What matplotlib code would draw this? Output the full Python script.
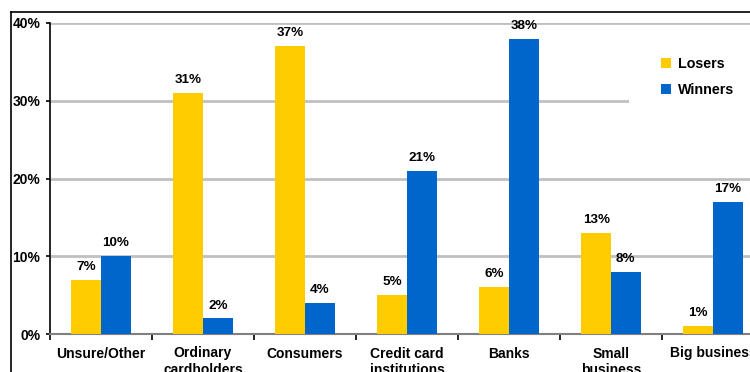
import matplotlib.pyplot as plt
import numpy as np
from matplotlib.lines import Line2D
from matplotlib.patches import Rectangle

plt.rcParams['font.family'] = ['Liberation Sans', 'DejaVu Sans']
plt.rcParams['font.weight'] = 'bold'

# data
categories = ['Unsure/Other', 'Ordinary\ncardholders', 'Consumers',
              'Credit card\ninstitutions', 'Banks', 'Small\nbusiness', 'Big business']
losers = [7, 31, 37, 5, 6, 13, 1]
winners = [10, 2, 4, 21, 38, 8, 17]
y_ticks = [0, 10, 20, 30, 40]

W, H = 750, 372
fig = plt.figure(figsize=(W / 100, H / 100), dpi=100)
# axes runs past the right edge, as in the cropped original
ax = fig.add_axes([50 / W, 1 - 334 / H, 714 / W, 311 / H])

x = np.arange(len(categories))
bw = 0.29
b1 = ax.bar(x - bw / 2, losers, bw, color='#FFCC00', label='Losers', zorder=3)
b2 = ax.bar(x + bw / 2, winners, bw, color='#0066CC', label='Winners', zorder=3)
for bars in (b1, b2):
    ax.bar_label(bars, labels=[f'{v}%' for v in bars.datavalues], padding=5,
                 fontsize=9.7, fontweight='bold')

ax.set_xlim(-0.5, len(categories) - 0.5)
ax.set_ylim(0, 40)
ax.set_yticks(y_ticks)
ax.set_yticklabels([f'{v}%' for v in y_ticks])
ax.yaxis.grid(True, color='#c0c0c0', linewidth=2)
ax.set_axisbelow(True)

ax.set_xticks(x)
ax.set_xticklabels(categories, linespacing=1.2)
ax.set_xticks(np.arange(len(categories) + 1) - 0.5, minor=True)
ax.tick_params(axis='x', which='major', length=0, pad=9, labelsize=10)
ax.tick_params(axis='x', which='minor', length=4, width=1.2, color='black')
ax.tick_params(axis='y', length=3, width=1.2, pad=4, labelsize=10)

for s in ('top', 'right'):
    ax.spines[s].set_visible(False)
ax.spines['left'].set_linewidth(1.2)
ax.spines['bottom'].set_color('#808080')
ax.spines['bottom'].set_linewidth(1.5)

# white block behind the legend hides part of the 30% gridline
fig.patches.append(Rectangle((629 / W, 1 - 115 / H), 121 / W, 75 / H,
                             transform=fig.transFigure, facecolor='white',
                             edgecolor='none', zorder=2))
fig.legend(loc='center left', bbox_to_anchor=(654 / W, 1 - 77 / H),
           frameon=False, fontsize=10.3, handlelength=0.7, handleheight=0.7,
           handletextpad=0.45, labelspacing=0.85, borderpad=0)

# outer frame of the original graphic
fig.add_artist(Line2D([11 / W, 11 / W], [0, 1 - 12 / H], color='black', lw=1.2))
fig.add_artist(Line2D([11 / W, 1], [1 - 12 / H, 1 - 12 / H], color='black', lw=1.2))

fig.savefig('out.png', dpi=100)
